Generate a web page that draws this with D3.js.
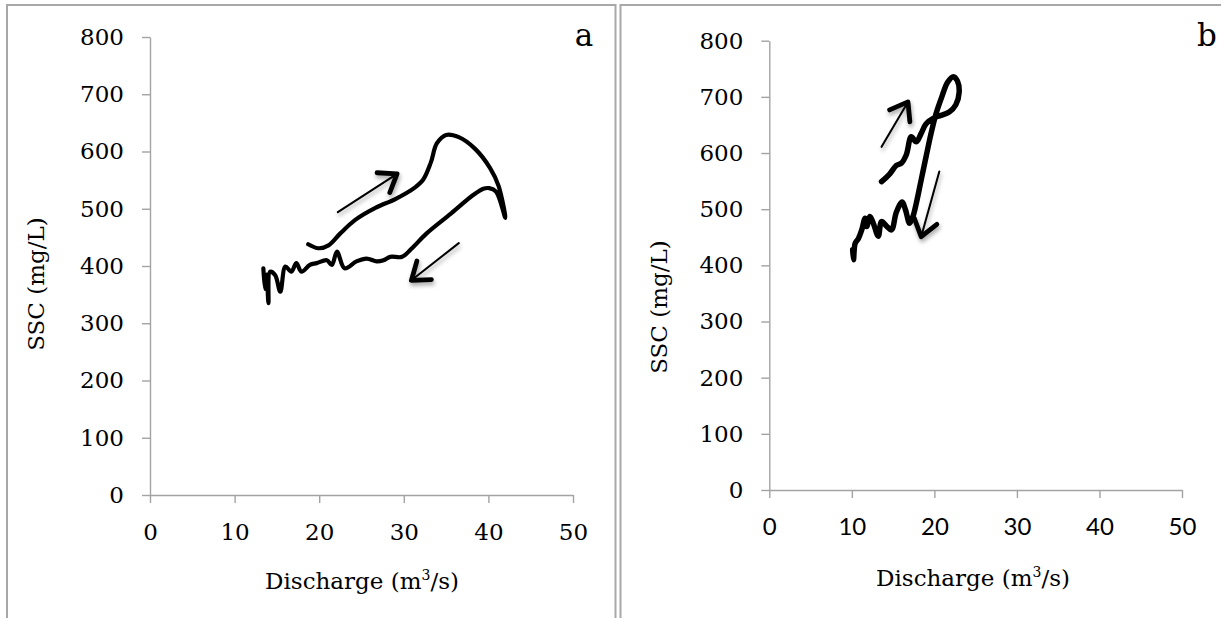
<!DOCTYPE html>
<html>
<head>
<meta charset="utf-8">
<script src="https://cdn.jsdelivr.net/npm/d3@7"></script>
<style>
  html, body { margin: 0; padding: 0; background: #fff; }
  svg { display: block; }
</style>
</head>
<body>
<script>
// Axis ticks shared by both panels
const xTicks = [0, 10, 20, 30, 40, 50];
const yTicks = [0, 100, 200, 300, 400, 500, 600, 700, 800];

// Panel a: hysteresis loop, discharge (m3/s) vs SSC (mg/L), in time order
const dischargeA = [18.7, 19.9, 21.1, 22.5, 24.3, 26.7, 29.0, 31.3, 32.3, 33.2, 33.9, 35.0, 36.5, 38.4, 40.2, 41.2, 42.0,
  40.9, 40.1, 39.4, 38.2, 35.6, 32.7, 30.9, 29.8, 28.4, 27.6, 26.8, 25.6, 24.4, 23.0, 22.1, 21.5, 20.9, 19.7, 18.9,
  17.9, 17.3, 16.7, 16.0, 15.4, 14.8, 14.2, 14.0, 13.8, 13.6, 13.4];
const sscA = [438, 431, 436, 457, 481, 502, 517, 537, 551, 581, 614, 629, 625, 605, 571, 540, 484,
  530, 536, 535, 524, 492, 457, 430, 416, 416, 410, 408, 413, 408, 396, 425, 402, 410, 405, 402,
  390, 405, 390, 399, 355, 384, 390, 335, 385, 360, 396];

// Panel b
const dischargeB = [13.6, 14.6, 15.4, 16.0, 16.6, 17.2, 17.8, 18.4, 19.0, 20.0, 20.8, 21.8, 22.6, 23.0, 22.8, 22.3,
  21.6, 20.9, 20.2, 19.6, 19.0, 18.4, 17.8, 17.4, 17.0, 16.5, 16.1, 15.4, 14.8, 14.2, 13.6, 13.2, 12.6, 12.2,
  11.8, 11.6, 11.2, 10.8, 10.4, 10.2, 10.1];
const sscB = [549, 563, 578, 582, 597, 629, 620, 635, 652, 663, 667, 673, 686, 708, 728, 736,
  726, 700, 670, 635, 594, 552, 510, 487, 475, 499, 513, 495, 463, 470, 478, 452, 475, 487,
  469, 484, 463, 448, 439, 410, 428];

// Direction arrows [x1, y1, x2, y2] in data units (tail -> head)
const arrowsA = [[22.2, 494, 29.2, 561], [36.5, 440, 30.9, 375]];
const arrowsB = [[13.6, 611, 16.8, 691], [20.6, 567, 18.4, 451]];

const width = 1221, height = 618;
const serif = "'DejaVu Serif', serif";
const sans = "Lato, 'Open Sans', sans-serif";
const axisColor = "#a3a3a3";

const svg = d3.select("body").append("svg")
    .attr("width", width)
    .attr("height", height);

// Soft shadow under the hand-drawn arrows
const defs = svg.append("defs");
defs.append("filter")
    .attr("id", "arrowShadow")
    .attr("x", "-30%").attr("y", "-30%")
    .attr("width", "160%").attr("height", "160%")
  .append("feDropShadow")
    .attr("dx", 1).attr("dy", 3)
    .attr("stdDeviation", 2)
    .attr("flood-color", "#000")
    .attr("flood-opacity", 0.35);

// Panel frames (double rule in the middle)
svg.append("g")
    .attr("fill", "none")
    .attr("stroke", "#a8a8a8")
    .attr("stroke-width", 2)
    .selectAll("path")
    .data([
      [[7, height + 2], [7, 5], [615.5, 5], [615.5, height + 2]],
      [[620.5, height + 2], [620.5, 5], [width + 2, 5]]
    ])
    .join("path")
    .attr("d", d3.line());

drawPanel({
  x0: 150, x1: 573, y0: 495, y1: 37,
  xs: dischargeA, ys: sscA, arrows: arrowsA,
  strokeWidth: 4.2, xFont: serif, xFontSize: 23,
  label: "a", labelX: 584, labelY: 46,
  yTitleX: 36, yTitleY: 284, xTitleX: 362, xTitleY: 589
});

drawPanel({
  x0: 769.3, x1: 1182, y0: 490, y1: 40.7,
  xs: dischargeB, ys: sscB, arrows: arrowsB,
  strokeWidth: 5.5, xFont: sans, xFontSize: 24,
  label: "b", labelX: 1207, labelY: 46,
  yTitleX: 659, yTitleY: 307, xTitleX: 973, xTitleY: 586
});

function drawPanel(p) {
  const x = d3.scaleLinear().domain([0, 50]).range([p.x0, p.x1]);
  const y = d3.scaleLinear().domain([0, 800]).range([p.y0, p.y1]);
  const g = svg.append("g");

  // --- Axes ---
  g.append("g")
      .attr("transform", `translate(0,${p.y0})`)
      .call(d3.axisBottom(x).tickValues(xTicks).tickSize(8).tickSizeOuter(0))
      .call(a => a.selectAll("path, line").attr("stroke", axisColor).attr("stroke-width", 1.4))
      .call(a => a.selectAll("text")
          .attr("y", 45).attr("dy", null)
          .attr("fill", "#000")
          .attr("font-family", p.xFont)
          .attr("font-size", p.xFontSize));

  g.append("g")
      .attr("transform", `translate(${p.x0},0)`)
      .call(d3.axisLeft(y).tickValues(yTicks).tickSize(8).tickSizeOuter(0).tickPadding(18))
      .call(a => a.selectAll("path, line").attr("stroke", axisColor).attr("stroke-width", 1.4))
      .call(a => a.selectAll("text")
          .attr("fill", "#000")
          .attr("font-family", serif)
          .attr("font-size", 23));

  // --- Axis titles ---
  g.append("text")
      .attr("transform", `translate(${p.yTitleX},${p.yTitleY}) rotate(-90)`)
      .attr("text-anchor", "middle")
      .attr("dy", "0.35em")
      .attr("font-family", serif)
      .attr("font-size", 23)
      .text("SSC (mg/L)");

  const xt = g.append("text")
      .attr("x", p.xTitleX)
      .attr("y", p.xTitleY)
      .attr("text-anchor", "middle")
      .attr("font-family", serif)
      .attr("font-size", 23);
  xt.append("tspan").text("Discharge (m");
  xt.append("tspan").attr("font-size", 14).attr("dy", -9).text("3");
  xt.append("tspan").attr("dy", 9).text("/s)");

  // Panel letter
  g.append("text")
      .attr("x", p.labelX)
      .attr("y", p.labelY)
      .attr("text-anchor", "middle")
      .attr("font-family", serif)
      .attr("font-size", 31)
      .text(p.label);

  // --- Hysteresis curve ---
  const pts = p.xs.map((d, i) => [d, p.ys[i]]);
  g.append("path")
      .datum(pts)
      .attr("fill", "none")
      .attr("stroke", "#000")
      .attr("stroke-width", p.strokeWidth)
      .attr("stroke-linecap", "round")
      .attr("stroke-linejoin", "round")
      .attr("d", d3.line()
          .x(d => x(d[0]))
          .y(d => y(d[1]))
          .curve(d3.curveCatmullRom.alpha(0.5)));

  // --- Direction arrows ---
  const arrow = g.append("g")
      .attr("filter", "url(#arrowShadow)")
      .attr("fill", "none")
      .attr("stroke", "#000")
      .attr("stroke-linecap", "round")
      .attr("stroke-linejoin", "round")
      .selectAll("g")
      .data(p.arrows)
      .join("g");

  arrow.append("line")
      .attr("x1", d => x(d[0])).attr("y1", d => y(d[1]))
      .attr("x2", d => x(d[2])).attr("y2", d => y(d[3]))
      .attr("stroke-width", 2);

  // Open V head, drawn heavier than the shaft
  arrow.append("path")
      .attr("stroke-width", 4.8)
      .attr("d", d => {
        const hx = x(d[2]), hy = y(d[3]);
        const ang = Math.atan2(hy - y(d[1]), hx - x(d[0]));
        const len = 20, spread = Math.PI / 5;
        const a1 = ang + Math.PI - spread, a2 = ang + Math.PI + spread;
        return `M${hx + len * Math.cos(a1)},${hy + len * Math.sin(a1)}L${hx},${hy}L${hx + len * Math.cos(a2)},${hy + len * Math.sin(a2)}`;
      });
}
</script>
</body>
</html>
